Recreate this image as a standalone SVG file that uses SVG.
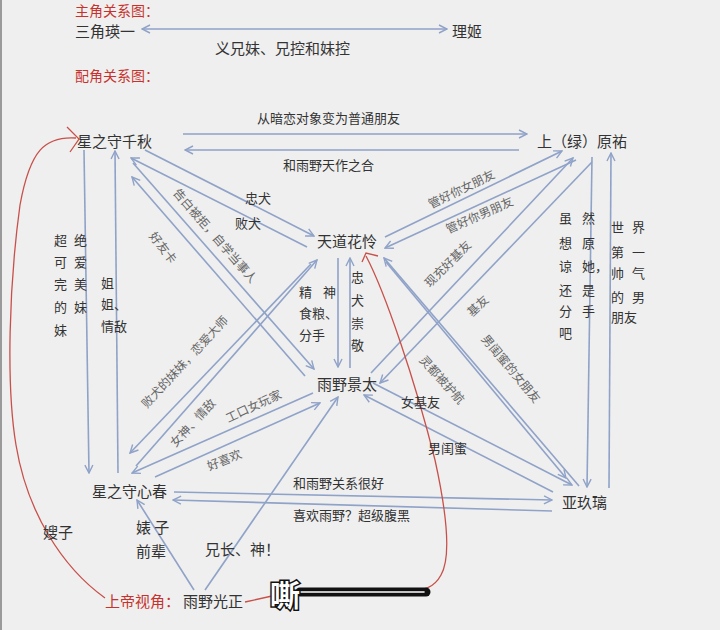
<svg xmlns="http://www.w3.org/2000/svg" width="720" height="630" viewBox="0 0 720 630">
<defs>
<marker id="ah" viewBox="0 0 10 10" refX="9" refY="5" markerWidth="10" markerHeight="10" markerUnits="userSpaceOnUse" orient="auto-start-reverse">
<path d="M1,1 L9,5 L1,9" fill="none" stroke="#8fa2c8" stroke-width="1.4"/>
</marker>
</defs>
<style>
.ln{stroke:#8fa2c8;stroke-width:1.6;fill:none}
.a{marker-end:url(#ah)}
.n{font-family:"Noto Sans CJK SC",sans-serif;font-size:15px;fill:#333}
.l{font-family:"Noto Sans CJK SC",sans-serif;font-size:13px;fill:#333}
.r{font-family:"Noto Sans CJK SC",sans-serif;font-size:12px;fill:#666;text-anchor:middle;dominant-baseline:central}
.red{font-family:"Noto Sans CJK SC",sans-serif;font-size:14px;fill:#c8322d}
.rc{stroke:#c8504a;stroke-width:1.3;fill:none}
</style>
<rect width="720" height="630" fill="#efefef"/>
<rect x="0" y="0" width="2" height="630" fill="#9a9a9a"/>

<g id="titles">
<text class="red" x="75" y="16">主角关系图：</text>
<text class="red" x="75" y="81">配角关系图：</text>
</g>

<g id="connectors">
<line class="ln a" x1="142" y1="29" x2="447" y2="29" style="marker-start:url(#ah)"/>
<line class="ln a" x1="183" y1="134" x2="527" y2="134"/>
<line class="ln a" x1="519" y1="150" x2="185" y2="150"/>
<line class="ln a" x1="84" y1="150" x2="89" y2="473"/>
<line class="ln a" x1="118" y1="473" x2="115" y2="151"/>
<line class="ln a" x1="145" y1="150" x2="314" y2="236"/>
<line class="ln a" x1="307" y1="247" x2="131" y2="158"/>
<line class="ln a" x1="133" y1="163" x2="314" y2="369"/>
<line class="ln a" x1="305" y1="376" x2="132" y2="177"/>
<line class="ln a" x1="338" y1="258" x2="338" y2="367"/>
<line class="ln a" x1="350" y1="368" x2="350" y2="258"/>
<line class="ln a" x1="311" y1="264" x2="130" y2="453"/>
<line class="ln a" x1="136" y1="466" x2="317" y2="260"/>
<line class="ln a" x1="313" y1="393" x2="132" y2="473"/>
<line class="ln a" x1="155" y1="477" x2="320" y2="403"/>
<line class="ln a" x1="194" y1="590" x2="137" y2="500"/>
<line class="ln a" x1="205" y1="590" x2="338" y2="397"/>
<line class="ln a" x1="174" y1="492" x2="552" y2="500"/>
<line class="ln a" x1="552" y1="511" x2="173" y2="500"/>
<line class="ln a" x1="373" y1="383" x2="572" y2="485"/>
<line class="ln a" x1="553" y1="492" x2="364" y2="395"/>
<line class="ln a" x1="386" y1="262" x2="566" y2="478"/>
<line class="ln a" x1="579" y1="486" x2="384" y2="258"/>
<line class="ln a" x1="371" y1="373" x2="573" y2="158"/>
<line class="ln a" x1="592" y1="162" x2="380" y2="383"/>
<line class="ln a" x1="385" y1="237" x2="562" y2="151"/>
<line class="ln a" x1="576" y1="160" x2="385" y2="248"/>
<line class="ln a" x1="592" y1="157" x2="587" y2="487"/>
<line class="ln a" x1="609" y1="488" x2="611" y2="153"/>
</g>

<g id="red-marks">
<path class="rc" d="M76,138 C45,136 30,150 20,205 C9,285 6,385 16,445 C27,512 62,567 105,598"/>
<polyline class="rc" points="67,127 79,139 70,152" stroke-width="1.6"/>
<path class="rc" d="M366,256 C385,292 415,380 435,460 C446,510 452,556 441,575 C434,588 425,590 405,592 L272,596 L245,602"/>
<polyline class="rc" points="362,262 366,253 378,256" stroke-width="1.4"/>
</g>

<g id="labels">
<text class="l" x="215" y="54" style="font-size:15px">义兄妹、兄控和妹控</text>
<text class="l" x="257" y="123">从暗恋对象变为普通朋友</text>
<text class="l" x="283" y="170">和雨野天作之合</text>
<text class="l" x="245" y="203">忠犬</text>
<text class="l" x="235" y="228">败犬</text>
<text class="l"><tspan x="54" y="245">超</tspan><tspan x="74" y="245">绝</tspan><tspan x="54" y="267">可</tspan><tspan x="74" y="267">爱</tspan><tspan x="54" y="289">完</tspan><tspan x="74" y="289">美</tspan><tspan x="54" y="312">的</tspan><tspan x="74" y="312">妹</tspan><tspan x="54" y="335">妹</tspan></text>
<text class="l"><tspan x="101" y="288">姐</tspan><tspan x="101" y="309">姐、</tspan><tspan x="101" y="331">情敌</tspan></text>
<text class="l"><tspan x="299" y="297">精</tspan><tspan x="323" y="297">神</tspan><tspan x="299" y="318">食粮、</tspan><tspan x="299" y="340">分手</tspan></text>
<text class="l"><tspan x="351" y="282">忠</tspan><tspan x="351" y="305">犬</tspan><tspan x="351" y="328">崇</tspan><tspan x="351" y="350">敬</tspan></text>
<text class="l"><tspan x="559" y="223">虽</tspan><tspan x="582" y="223">然</tspan><tspan x="559" y="248">想</tspan><tspan x="582" y="248">原</tspan><tspan x="559" y="271">谅</tspan><tspan x="582" y="271">她，</tspan><tspan x="559" y="295">还</tspan><tspan x="582" y="295">是</tspan><tspan x="559" y="316">分</tspan><tspan x="582" y="316">手</tspan><tspan x="559" y="338">吧</tspan></text>
<text class="l"><tspan x="611" y="232">世</tspan><tspan x="632" y="232">界</tspan><tspan x="611" y="257">第</tspan><tspan x="632" y="257">一</tspan><tspan x="611" y="278">帅</tspan><tspan x="632" y="278">气</tspan><tspan x="611" y="302">的</tspan><tspan x="632" y="302">男</tspan><tspan x="611" y="322">朋友</tspan></text>
<text class="l" x="401" y="407">女基友</text>
<text class="l" x="428" y="453">男闺蜜</text>
<text class="l" x="293" y="488">和雨野关系很好</text>
<text class="l" x="293" y="520">喜欢雨野？超级腹黑</text>
<text class="l" x="43" y="538" style="font-size:15px">嫂子</text>
<text class="l" style="font-size:15px"><tspan x="136" y="533">婊 子</tspan><tspan x="136" y="557">前辈</tspan></text>
<text class="l" x="205" y="555" style="font-size:15px">兄长、神！</text>
<text class="r" transform="translate(216,235) rotate(49)">告白被拒，自学当事人</text>
<text class="r" transform="translate(164,247) rotate(52)">好友卡</text>
<text class="r" transform="translate(184,361) rotate(-47)">败犬的妹妹，恋爱大师</text>
<text class="r" transform="translate(192,422) rotate(-47)">女神、情敌</text>
<text class="r" transform="translate(253,405) rotate(-25)">工口女玩家</text>
<text class="r" transform="translate(224,459) rotate(-22)">好喜欢</text>
<text class="r" transform="translate(461,188) rotate(-26)">管好你女朋友</text>
<text class="r" transform="translate(479,214) rotate(-24)">管好你男朋友</text>
<text class="r" transform="translate(447,263) rotate(-45)">现充好基友</text>
<text class="r" transform="translate(477,305) rotate(-43)">基友</text>
<text class="r" transform="translate(512,368) rotate(50)">男闺蜜的女朋友</text>
<text class="r" transform="translate(443,379) rotate(48)">灵都被护航</text>
</g>

<g id="n-sanjiao"><text class="n" x="75" y="37">三角瑛一</text></g>
<g id="n-riji"><text class="n" x="452" y="37">理姬</text></g>
<g id="n-chiaki"><text class="n" x="77" y="147">星之守千秋</text></g>
<g id="n-uehara"><text class="n" x="537" y="147">上（绿）原祐</text></g>
<g id="n-karen"><text class="n" x="317" y="247">天道花怜</text></g>
<g id="n-keita"><text class="n" x="317" y="390">雨野景太</text></g>
<g id="n-konoha"><text class="n" x="92" y="497">星之守心春</text></g>
<g id="n-aguri"><text class="n" x="562" y="508">亚玖璃</text></g>
<g id="n-kousei"><text class="red" x="105" y="607" style="font-size:15px">上帝视角：</text><text class="n" x="183" y="607">雨野光正</text></g>

<g id="overlay">
<line x1="300" y1="592" x2="426" y2="592" stroke="#111" stroke-width="9" stroke-linecap="round"/>
<line x1="300" y1="592" x2="424" y2="592" stroke="#fff" stroke-width="1.6" stroke-linecap="round"/>
<text x="270" y="606" style="font-family:'Noto Sans CJK SC',sans-serif;font-size:30px;font-weight:bold;fill:#fff;stroke:#111;stroke-width:3;paint-order:stroke">嘶</text>
</g>
</svg>
